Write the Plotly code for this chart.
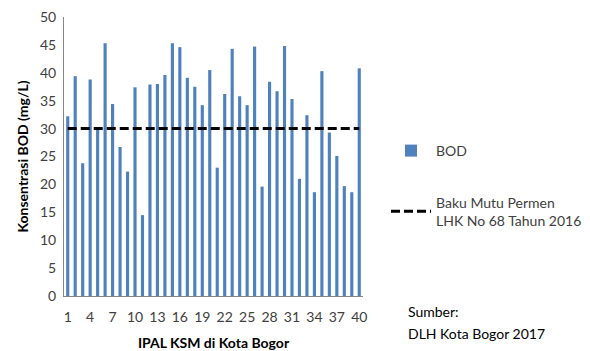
import plotly.graph_objects as go

ipal = list(range(1, 41))
bod = [32.2, 39.4, 23.8, 38.8, 29.8, 45.3, 34.4, 26.7, 22.3, 37.4,
       14.5, 37.9, 38.0, 39.6, 45.3, 44.6, 39.1, 37.5, 34.2, 40.5,
       23.0, 36.2, 44.3, 35.8, 34.2, 44.7, 19.6, 38.4, 36.7, 44.8,
       35.3, 21.0, 32.4, 18.6, 40.3, 29.3, 25.1, 19.7, 18.6, 40.8]
baku_mutu = [30] * 40
x_ticks = list(range(1, 41, 3))
source_lines = ["Sumber:", "DLH Kota Bogor 2017"]

FONT = "Lato"
W, H = 582, 343  # page body has an 8px margin
fig = go.Figure()
fig.add_trace(go.Bar(x=ipal, y=bod, name="BOD", marker_color="#4F81BD",
                     marker_line_width=0, legend="legend", showlegend=True))
fig.add_trace(go.Scatter(x=ipal, y=baku_mutu, mode="lines",
                         name="Baku Mutu Permen<br>LHK No 68 Tahun 2016",
                         line=dict(color="black", width=3, dash="9px,4px"),
                         legend="legend2", showlegend=True))

fig.update_layout(
    width=W, height=H,
    showlegend=True,
    margin=dict(l=56, r=227, t=9, b=55, autoexpand=False),
    paper_bgcolor="white", plot_bgcolor="white",
    font=dict(family=FONT, size=14, color="#404040"),
    bargap=0.58,
    legend=dict(xref="container", yref="container", x=378 / W, y=1 - 143 / H,
                xanchor="left", yanchor="middle", itemwidth=40,
                font=dict(family=FONT, size=14, color="#404040"),
                bgcolor="rgba(0,0,0,0)"),
    legend2=dict(xref="container", yref="container", x=378 / W, y=1 - 203.5 / H,
                 xanchor="left", yanchor="middle", itemwidth=40,
                 font=dict(family=FONT, size=14, color="#404040"),
                 bgcolor="rgba(0,0,0,0)"),
    xaxis=dict(range=[0.5, 40.5], tickmode="array", tickvals=x_ticks,
               ticktext=[str(v) for v in x_ticks], showgrid=False,
               showline=True, linecolor="#868686", linewidth=1, ticks="",
               ticklabelstandoff=8, ticklabeloverflow="allow", zeroline=False,
               automargin=False,
               title=dict(text="<b>IPAL KSM di Kota Bogor</b>", standoff=15,
                          font=dict(family=FONT, size=14, color="black"))),
    yaxis=dict(range=[0, 50], dtick=5, showgrid=False, showline=True,
               linecolor="#868686", linewidth=1, ticks="", zeroline=False,
               ticklabelstandoff=4, ticklabeloverflow="allow", automargin=False,
               title=dict(text="<b>Konsentrasi BOD (mg/L)</b>", standoff=8,
                          font=dict(family=FONT, size=14, color="black"))),
    annotations=[dict(text=t, xref="paper", yref="paper",
                      x=(406 - 64) / 299, y=(296 - yp) / 279,
                      xanchor="left", yanchor="middle", showarrow=False,
                      align="left", font=dict(family=FONT, size=14, color="black"))
                 for t, yp in zip(source_lines, [311, 333])],
)
fig.write_html("out.html")
